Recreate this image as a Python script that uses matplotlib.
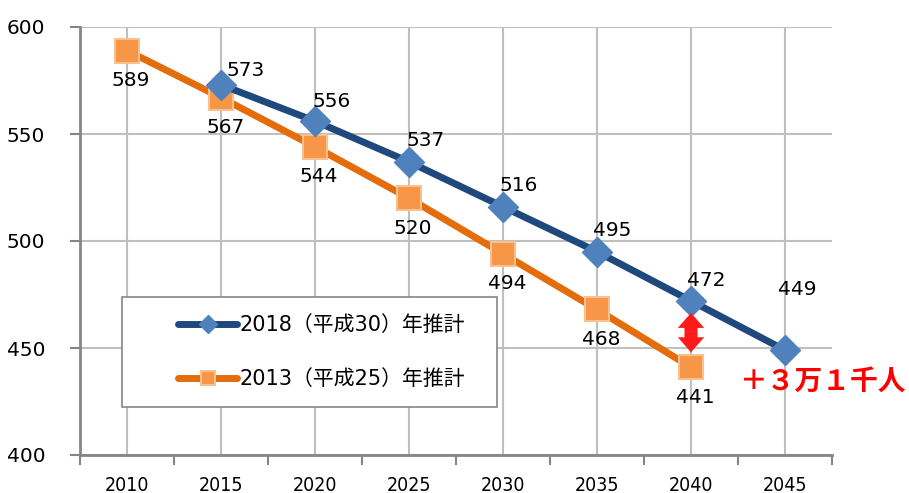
import matplotlib.pyplot as plt
from matplotlib.patches import Rectangle

# data
years = ["2010", "2015", "2020", "2025", "2030", "2035", "2040", "2045"]
est2018_x = [1, 2, 3, 4, 5, 6, 7]
est2018 = [573, 556, 537, 516, 495, 472, 449]
est2013_x = [0, 1, 2, 3, 4, 5, 6]
est2013 = [589, 567, 544, 520, 494, 468, 441]
label2018 = "2018（平成30）年推計"
label2013 = "2013（平成25）年推計"
diff_text = "＋３万１千人"

plt.rcParams['font.family'] = ['DejaVu Sans', 'Noto Sans CJK JP']

fig = plt.figure(figsize=(9.09, 4.93), dpi=100)
ax = fig.add_axes([80/909, 1-455/493, 752/909, 428/493])

blue_line = '#1f497d'
blue_mk = '#4f81bd'
orange_line = '#e46c0a'
orange_mk = '#f79646'

l1, = ax.plot(est2018_x, est2018, color=blue_line, lw=5, marker='D', ms=15,
              mfc=blue_mk, mec=blue_mk, zorder=4, solid_capstyle='round')
l2, = ax.plot(est2013_x, est2013, color=orange_line, lw=5, marker='s', ms=17.5,
              mfc=orange_mk, mec='#fac090', mew=1.5, zorder=3, solid_capstyle='round')

# data labels (blue above-right, orange below)
blue_off = [(18, 10), (12, 14), (12, 15), (11, 15), (11, 15), (11, 15), (9, 44)]
for (x, v), off in zip(zip(est2018_x, est2018), blue_off):
    ax.annotate(str(v), (x, v), xytext=off, textcoords='offset points',
                ha='center', va='center', fontsize=14.5, zorder=6)
for x, v in zip(est2013_x, est2013):
    ax.annotate(str(v), (x, v), xytext=(3, -21.5), textcoords='offset points',
                ha='center', va='center', fontsize=14.5, zorder=6)

# red double arrow at 2040 (two halves from the middle)
mid = 457.5
for end in (466.4, 448):
    ax.annotate('', xy=(6, end), xytext=(6, mid),
                arrowprops=dict(arrowstyle='simple,head_length=1.08,head_width=1.9,tail_width=0.94',
                                color='#ff1a1a', mutation_scale=10, shrinkA=0, shrinkB=0,
                                lw=0), zorder=5)
fig.text(740/909, 1-382/493, diff_text, color='#ff0000', fontsize=20,
         fontweight='bold', family=['Noto Sans CJK JP'], ha='left', va='center')

ax.set_xlim(-0.5, 7.5)
ax.set_ylim(400, 600)
ax.set_yticks([400, 450, 500, 550, 600])
ax.set_xticks(range(len(years)))
ax.set_xticklabels(years, fontstretch='condensed')
ax.set_xticks([i - 0.5 for i in range(len(years) + 1)], minor=True)
ax.tick_params(axis='x', which='major', length=0, pad=15, labelsize=14)
ax.tick_params(axis='x', which='minor', length=7, width=1.5, color='#868686')
ax.tick_params(axis='y', length=7, width=1.5, color='#868686', pad=18, labelsize=14.5)

ax.grid(True, which='major', color='#bfbfbf', lw=1.5)
ax.set_axisbelow(True)
for s in ['top', 'right']:
    ax.spines[s].set_visible(False)
for s in ['left', 'bottom']:
    ax.spines[s].set_color('#868686')
    ax.spines[s].set_linewidth(2)

# legend box
ax.add_patch(Rectangle((42/752, 48/428), 375/752, 110/428, transform=ax.transAxes,
                       facecolor='white', edgecolor='#868686', lw=1.2, zorder=7))
leg = ax.legend([l1, l2], [label2018, label2013], loc='center left',
                bbox_to_anchor=(98/752, 103/428), frameon=False, fontsize=15,
                handlelength=2.85, handletextpad=0.1, labelspacing=1.65,
                borderpad=0, borderaxespad=0, markerscale=0.6)
leg.set_zorder(8)

fig.savefig('out.png', dpi=100)
